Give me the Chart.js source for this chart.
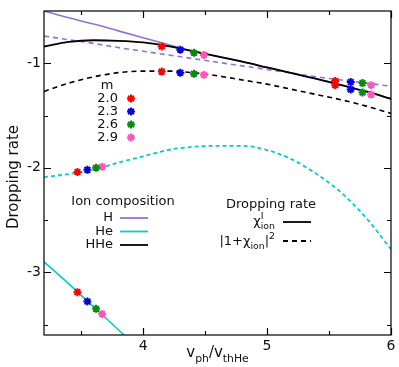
<!DOCTYPE html>
<html>
<head>
<meta charset="utf-8">
<script src="https://cdn.jsdelivr.net/npm/chart.js@4/dist/chart.umd.min.js"></script>
<style>
  html, body { margin: 0; padding: 0; background: #fff; }
  #wrap { width: 399px; height: 367px; }
</style>
</head>
<body>
<div id="wrap"><canvas id="chart" width="399" height="367"></canvas></div>
<script>
// phase velocity grid (v_ph / v_thHe)
const vGrid = [3.2, 3.4, 3.6, 3.8, 4.0, 4.2, 4.4, 4.6, 4.8, 5.0, 5.2, 5.4, 5.6, 5.8, 6.0];

// log dropping rate, solid = chi^I_ion, dashed = |1+chi_ion|^2
const hChi   = [-0.50, -0.565, -0.625, -0.69, -0.755, -0.82, -0.885, -0.935, -0.985, -1.04, -1.095, -1.15, -1.21, -1.27, -1.34];
const hOne   = [-0.74, -0.775, -0.81, -0.85, -0.885, -0.92, -0.955, -0.99, -1.025, -1.06, -1.095, -1.13, -1.16, -1.19, -1.22];
const hheChi = [-0.84, -0.795, -0.78, -0.785, -0.80, -0.835, -0.885, -0.935, -0.985, -1.04, -1.095, -1.15, -1.21, -1.27, -1.34];
const hheOne = [-1.27, -1.19, -1.13, -1.09, -1.075, -1.075, -1.09, -1.12, -1.16, -1.20, -1.25, -1.30, -1.35, -1.41, -1.48];
const heOne  = [-2.09, -2.06, -2.02, -1.95, -1.89, -1.83, -1.80, -1.79, -1.79, -1.83, -1.92, -2.06, -2.24, -2.48, -2.78];
const heGrid = [3.2, 3.4, 3.6, 3.8, 4.0];
const heChi  = [-2.90, -3.11, -3.33, -3.55, -3.77];

// simulation points for each m
const mLabels = ["2.0", "2.3", "2.6", "2.9"];
const mColors = ["#ff0000", "#0000e0", "#0a8a0a", "#ff55bb"];
const markV = [
  [4.15, 4.15, 3.47, 3.47, 5.55, 5.55],
  [4.30, 4.30, 3.55, 3.55, 5.675, 5.675],
  [4.41, 4.41, 3.62, 3.62, 5.77, 5.77],
  [4.49, 4.49, 3.67, 3.67, 5.84, 5.84],
];
const markY = [
  [-0.84, -1.08, -2.04, -3.19, -1.17, -1.21],
  [-0.87, -1.09, -2.02, -3.28, -1.18, -1.25],
  [-0.90, -1.10, -2.00, -3.35, -1.19, -1.28],
  [-0.92, -1.11, -1.99, -3.40, -1.21, -1.30],
];

const xTicks = [4, 5, 6];
const xMinor = [3.5, 4.5, 5.5];
const yTicks = [-1, -2, -3];
const yMinor = [-1.5, -2.5, -3.5];

const PURPLE = "#9370db";
const CYAN = "#00ced1";
const FONT = "DejaVu Sans";

function pts(xs, ys) {
  return xs.map((x, i) => ({ x: x, y: ys[i] }));
}

function curve(label, xs, ys, color, width, dash, order) {
  return {
    label: label,
    data: pts(xs, ys),
    showLine: true,
    borderColor: color,
    borderWidth: width,
    borderDash: dash,
    pointRadius: 0,
    cubicInterpolationMode: "monotone",
    order: order,
  };
}

const datasets = [
  curve("H chi", vGrid, hChi, PURPLE, 1.6, [], 5),
  curve("H one", vGrid, hOne, PURPLE, 1.6, [5, 4], 4),
  curve("He chi", heGrid, heChi, CYAN, 1.6, [], 4),
  curve("He one", vGrid, heOne, CYAN, 1.8, [4, 3], 4),
  curve("HHe chi", vGrid, hheChi, "#000", 1.8, [], 2),
  curve("HHe one", vGrid, hheOne, "#000", 1.6, [5, 4], 3),
];
mLabels.forEach((m, i) => {
  datasets.push({
    label: "m=" + m,
    data: pts(markV[i], markY[i]),
    showLine: false,
    pointStyle: "star",
    pointRadius: 4,
    borderColor: mColors[i],
    backgroundColor: mColors[i],
    pointBorderWidth: 2,
    order: 0,
  });
});

// text with sub/superscripts: parts = [text, kind] kind n | sub | sup | [sup, sub]
function richWidth(ctx, parts, size) {
  let w = 0;
  parts.forEach((p) => {
    if (Array.isArray(p[1])) {
      ctx.font = size * 0.72 + "px " + FONT;
      w += Math.max(ctx.measureText(p[1][0]).width, ctx.measureText(p[1][1]).width);
    } else {
      ctx.font = (p[1] === "n" ? size : size * 0.72) + "px " + FONT;
      w += ctx.measureText(p[0]).width;
    }
  });
  return w;
}

function rich(ctx, parts, x, y, align, size) {
  const w = richWidth(ctx, parts, size);
  let cx = align === "right" ? x - w : align === "center" ? x - w / 2 : x;
  ctx.textAlign = "left";
  ctx.textBaseline = "alphabetic";
  const base = y + size * 0.36;
  parts.forEach((p) => {
    if (Array.isArray(p[1])) {
      ctx.font = size * 0.72 + "px " + FONT;
      ctx.fillText(p[1][0], cx, base - size * 0.45);
      ctx.fillText(p[1][1], cx, base + size * 0.3);
      cx += Math.max(ctx.measureText(p[1][0]).width, ctx.measureText(p[1][1]).width);
      return;
    }
    let dy = 0;
    if (p[1] === "sub") dy = size * 0.3;
    if (p[1] === "sup") dy = -size * 0.45;
    ctx.font = (p[1] === "n" ? size : size * 0.72) + "px " + FONT;
    ctx.fillText(p[0], cx, base + dy);
    cx += ctx.measureText(p[0]).width;
  });
}

const decor = {
  id: "decor",
  afterDatasetsDraw(chart) {
    const ctx = chart.ctx;
    const a = chart.chartArea;
    const xs = chart.scales.x;
    const ys = chart.scales.y;
    ctx.save();
    ctx.strokeStyle = "#000";
    ctx.lineWidth = 1.2;
    ctx.strokeRect(a.left, a.top, a.right - a.left, a.bottom - a.top);

    ctx.beginPath();
    const tick = (len, vals, isX) => {
      vals.forEach((v) => {
        if (isX) {
          const px = Math.round(xs.getPixelForValue(v)) + 0.5;
          ctx.moveTo(px, a.bottom); ctx.lineTo(px, a.bottom - len);
          ctx.moveTo(px, a.top); ctx.lineTo(px, a.top + len);
        } else {
          const py = Math.round(ys.getPixelForValue(v)) + 0.5;
          ctx.moveTo(a.left, py); ctx.lineTo(a.left + len, py);
          ctx.moveTo(a.right, py); ctx.lineTo(a.right - len, py);
        }
      });
    };
    tick(7, xTicks, true);
    tick(4, xMinor, true);
    tick(7, yTicks, false);
    tick(4, yMinor, false);
    ctx.stroke();

    ctx.fillStyle = "#111";
    ctx.font = "14px " + FONT;
    ctx.textAlign = "center";
    ctx.textBaseline = "top";
    xTicks.forEach((v) => ctx.fillText(String(v), xs.getPixelForValue(v), a.bottom + 4));
    ctx.textAlign = "right";
    ctx.textBaseline = "middle";
    yTicks.forEach((v) => ctx.fillText(String(v), a.left - 3, ys.getPixelForValue(v)));

    // axis titles
    rich(ctx, [["v", "n"], ["ph", "sub"], ["/v", "n"], ["thHe", "sub"]], (a.left + a.right) / 2, 352, "center", 15);
    ctx.save();
    ctx.translate(14, (a.top + a.bottom) / 2 + 4);
    ctx.rotate(-Math.PI / 2);
    ctx.font = "15px " + FONT;
    ctx.textAlign = "center";
    ctx.textBaseline = "middle";
    ctx.fillText("Dropping rate", 0, 0);
    ctx.restore();

    // m legend
    ctx.font = "13px " + FONT;
    ctx.textAlign = "center";
    ctx.textBaseline = "middle";
    ctx.fillText("m", 107, 86);
    mLabels.forEach((m, i) => {
      const y = 98.5 + i * 13;
      ctx.textAlign = "right";
      ctx.fillStyle = "#111";
      ctx.fillText(m, 118, y);
      ctx.strokeStyle = mColors[i];
      ctx.lineWidth = 2;
      Chart.helpers.drawPoint(ctx, { pointStyle: "star", radius: 4, rotation: 0, borderWidth: 2 }, 131, y);
    });

    // ion composition legend
    ctx.fillStyle = "#111";
    ctx.textAlign = "center";
    ctx.fillText("Ion composition", 123, 202);
    const ions = [["H", PURPLE], ["He", CYAN], ["HHe", "#000"]];
    ions.forEach((it, i) => {
      const y = 218 + i * 13.5;
      ctx.textAlign = "right";
      ctx.fillText(it[0], 113, y);
      ctx.strokeStyle = it[1];
      ctx.lineWidth = 1.8;
      ctx.setLineDash([]);
      ctx.beginPath();
      ctx.moveTo(120, y); ctx.lineTo(148, y);
      ctx.stroke();
    });

    // dropping rate legend
    ctx.textAlign = "center";
    ctx.fillText("Dropping rate", 271, 205);
    rich(ctx, [["\u03c7", "n"], ["", ["I", "ion"]]], 275, 220, "right", 13);
    rich(ctx, [["|1+\u03c7", "n"], ["ion", "sub"], ["|", "n"], ["2", "sup"]], 275, 240, "right", 13);
    ctx.strokeStyle = "#000";
    ctx.lineWidth = 1.8;
    ctx.beginPath();
    ctx.moveTo(283, 222); ctx.lineTo(311, 222);
    ctx.stroke();
    ctx.setLineDash([5, 4]);
    ctx.beginPath();
    ctx.moveTo(283, 241); ctx.lineTo(311, 241);
    ctx.stroke();
    ctx.setLineDash([]);
    ctx.restore();
  },
};

new Chart(document.getElementById("chart").getContext("2d"), {
  type: "scatter",
  data: { datasets: datasets },
  options: {
    responsive: false,
    animation: false,
    devicePixelRatio: 1,
    layout: { padding: { left: 44, right: 8, top: 11, bottom: 32 } },
    scales: {
      x: { type: "linear", min: 3.2, max: 6, display: false },
      y: { type: "linear", min: -3.6, max: -0.5, display: false },
    },
    plugins: { legend: { display: false }, tooltip: { enabled: false } },
  },
  plugins: [decor],
});
</script>
</body>
</html>
